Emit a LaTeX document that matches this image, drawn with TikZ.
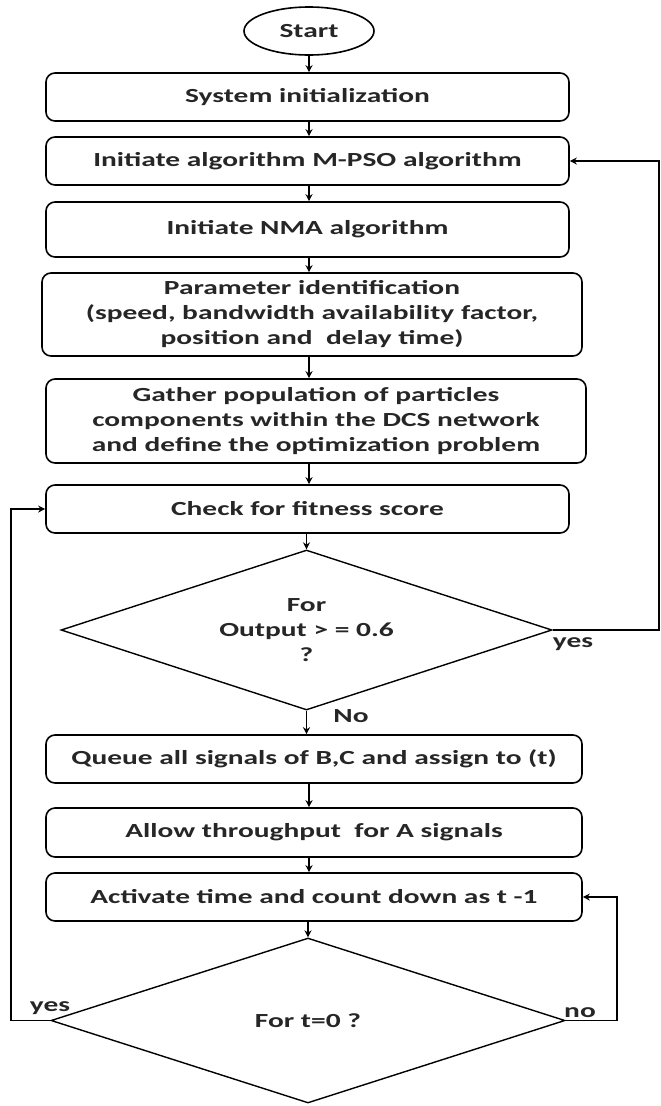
\documentclass[tikz,border=0pt]{standalone}
\usepackage{fontspec}
\setmainfont{Carlito}[FakeStretch=1.47]
\usetikzlibrary{shapes.geometric,arrows.meta}
\begin{document}
\begin{tikzpicture}[x=1pt,y=1pt,
  every node/.style={font=\fontsize{20}{25}\selectfont\bfseries, text=black!85},
  procbox/.style={draw, line width=1.6pt, rounded corners=9pt, align=center, inner sep=2pt},
  decision/.style={draw, diamond, aspect=3.07, line width=1.4pt, align=center, inner sep=0pt},
  flow/.style={line width=1.6pt, -{Stealth[length=7pt,width=7pt]}},
  line/.style={line width=1.6pt}]
\useasboundingbox (0,0) rectangle (661,-1106);
\node[draw, ellipse, line width=1.6pt, minimum width=130, minimum height=48, inner sep=0pt] (start) at (309,-31) {Start};
\node[procbox, minimum width=523, minimum height=48] (b1) at (307.5,-97) {System initialization};
\node[procbox, minimum width=523, minimum height=48] (b2) at (307.5,-161) {Initiate algorithm M-PSO algorithm};
\node[procbox, minimum width=523, minimum height=55] (b3) at (307.5,-229.5) {Initiate NMA algorithm};
\node[procbox, minimum width=540, minimum height=83] (b4) at (312,-314.5) {Parameter identification\\(speed, bandwidth availability factor,\\position and\ \ delay time)};
\node[procbox, minimum width=540, minimum height=84] (b5) at (316,-421) {Gather population of particles\\components within the DCS network\\and define the optimization problem};
\node[procbox, minimum width=523, minimum height=48] (b6) at (307.5,-509) {Check for fitness score};
\node[decision, minimum width=491, minimum height=160] (d1) at (306.5,-630) {For\\Output > = 0.6\\?};
\node[procbox, minimum width=536, minimum height=48] (b7) at (314,-759) {Queue all signals of B,C and assign to (t)};
\node[procbox, minimum width=536, minimum height=49] (b8) at (314,-832.5) {Allow throughput\ \ for A signals};
\node[procbox, minimum width=536, minimum height=48] (b9) at (314,-897) {Activate time and count down as t -1};
\node[decision, minimum width=514, minimum height=165] (d2) at (308,-1020.5) {For t=0 ?};
\coordinate (col) at (309,0);
\coordinate (rr) at (659,0);
\coordinate (ll) at (11,0);
\coordinate (nr) at (617,0);
\draw[flow] (start.south) -- (start.south |- b1.north);
\draw[flow] (b1.south -| col) -- (b2.north -| col);
\draw[flow] (b2.south -| col) -- (b3.north -| col);
\draw[flow] (b3.south -| col) -- (b4.north -| col);
\draw[flow] (b4.south -| col) -- (b5.north -| col);
\draw[flow] (b5.south -| col) -- (b6.north -| col);
\draw[flow] (b6.south -| d1.north) -- (d1.north);
\draw[flow] (d1.south) -- (d1.south |- b7.north);
\draw[flow] (b7.south -| col) -- (b8.north -| col);
\draw[flow] (b8.south -| col) -- (b9.north -| col);
\draw[flow] (b9.south -| d2.north) -- (d2.north);
\draw[flow] (d1.east) -- (d1.east -| rr) -- (b2.east -| rr) -- (b2.east);
\draw[flow] (d2.west) -- (d2.west -| ll) -- (b6.west -| ll) -- (b6.west);
\draw[flow] (d2.east) -- (d2.east -| nr) -- (b9.east -| nr) -- (b9.east);
\node (yes1) at (573,-644) {yes};
\node (no1) at (351,-716) {No};
\node (yes2) at (50,-1008) {yes};
\node (no2) at (580,-1013) {no};
\end{tikzpicture}
\end{document}
